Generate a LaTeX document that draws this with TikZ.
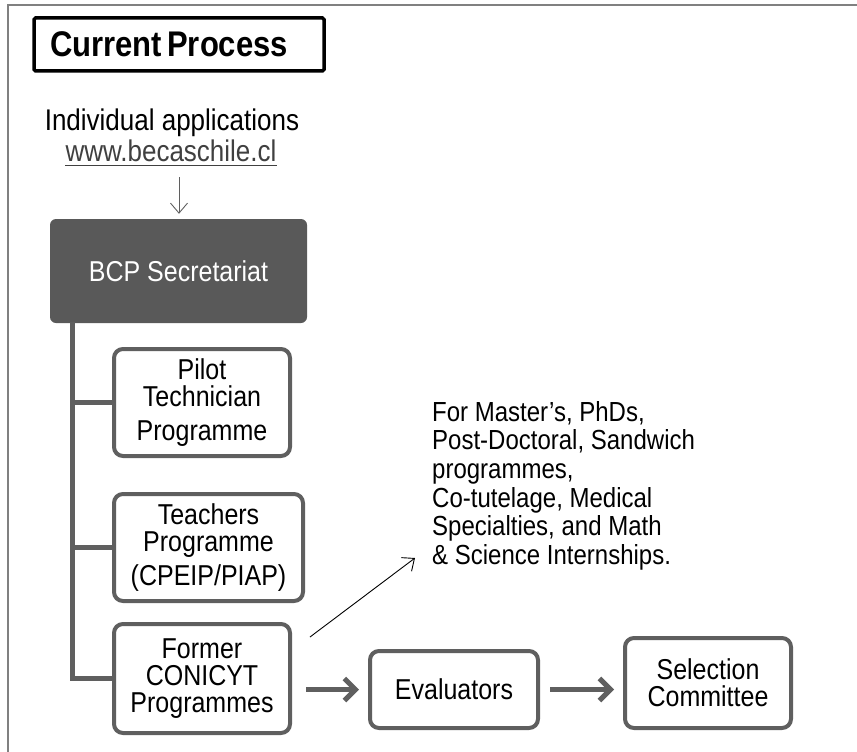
\documentclass[tikz,border=0pt]{standalone}
\usepackage{fontspec}
\setmainfont{Liberation Sans}
\usetikzlibrary{arrows.meta,calc}
\definecolor{boxgray}{HTML}{5F5F5F}
\definecolor{darkfill}{HTML}{595959}
\definecolor{framegray}{HTML}{808080}
\definecolor{linkgray}{HTML}{404040}
\newcommand{\vst}[1]{\scalebox{1}[1.15]{#1}}
\tikzset{
  progbox/.style={draw=boxgray, line width=4pt, rounded corners=9pt, fill=white,
    align=center, inner sep=0pt, font=\fontsize{25}{27}\selectfont},
  trunk/.style={draw=boxgray, line width=5pt},
  thickarrow/.style={draw=boxgray, line width=5pt, -{Straight Barb[length=11pt,width=22pt]}},
  thinarrow/.style={line width=0.9pt, -{Straight Barb[length=10pt,width=17pt]}},
}
\begin{document}
\begin{tikzpicture}[x=1pt,y=-1pt]
\useasboundingbox (0,0) rectangle (857,752);
% outer frame
\draw[framegray, line width=1.6pt] (8,760) -- (8,5) -- (870,5);

% title
\draw[black, line width=3.5pt, rounded corners=1.5pt] (34,18) rectangle (324,71);
\node[anchor=west, inner sep=0pt, font=\fontsize{31}{33}\selectfont\bfseries] (title) at (50,44.5) {\vst{Current\,Process}};

% applications
\node[inner sep=0pt, font=\fontsize{26}{28}\selectfont] (indiv) at (172,123) {\vst{Individual applications}};
\node[inner sep=0pt, font=\fontsize{26}{28}\selectfont, text=linkgray] (www) at (171,151) {\vst{www.becaschile.cl}};
\draw[linkgray, line width=1pt] (www.south west) ++(0,3) coordinate (ul1) -- (www.south east |- ul1);

% BCP
\node[fill=darkfill, rounded corners=6pt, minimum width=257pt, minimum height=104pt,
  text=white, font=\fontsize{25}{27}\selectfont] (bcp) at (178.5,271) {\vst{BCP Secretariat}};
\coordinate (arrtop) at (179,177);
\draw[thinarrow, draw=boxgray, shorten >=5pt] (arrtop) -- (bcp.north -| arrtop);

% programme boxes
\node[progbox, minimum width=176pt, minimum height=107pt] (pilot) at (202,402.5)
  {\vst{Pilot}\\\vst{Technician}\\[7pt]\vst{Programme}};
\node[progbox, minimum width=189pt, minimum height=107pt] (teach) at (208.5,547.5)
  {\vst{Teachers}\\\vst{Programme}\\[7pt]\vst{(CPEIP/PIAP)}};
\node[progbox, minimum width=176pt, minimum height=109pt] (former) at (202,678.5)
  {\vst{Former}\\\vst{CONICYT}\\\vst{Programmes}};

% trunk and branches
\coordinate (t0) at (72.5,322);
\draw[trunk] (t0) |- (former.west);
\draw[trunk] (t0 |- pilot.west) -- (pilot.west);
\draw[trunk] (t0 |- teach.west) -- (teach.west);

% evaluators and committee
\node[progbox, minimum width=168pt, minimum height=77pt] (eval) at (454,689.5) {\vst{Evaluators}};
\node[progbox, minimum width=166pt, minimum height=90pt] (sel) at (708,683) {\vst{Selection}\\\vst{Committee}};

\draw[thickarrow, shorten <=14pt, shorten >=9pt] (former.east |- eval.west) -- (eval.west);
\draw[thickarrow, shorten <=10pt, shorten >=9pt] (eval.east) -- (eval.east -| sel.west);

% description
\node[anchor=north west, inner sep=0pt, align=left, font=\fontsize{24}{28.6}\selectfont] (desc) at (432,401)
  {\vst{For Master’s, PhDs,}\\\vst{Post-Doctoral, Sandwich}\\\vst{programmes,}\\\vst{Co-tutelage, Medical}\\\vst{Specialties, and Math}\\\vst{\& Science Internships.}};
\coordinate (d0) at (310,637);
\coordinate (d1) at (415,558);
\draw[thinarrow, black] (d0) -- (d1);
\end{tikzpicture}
\end{document}
